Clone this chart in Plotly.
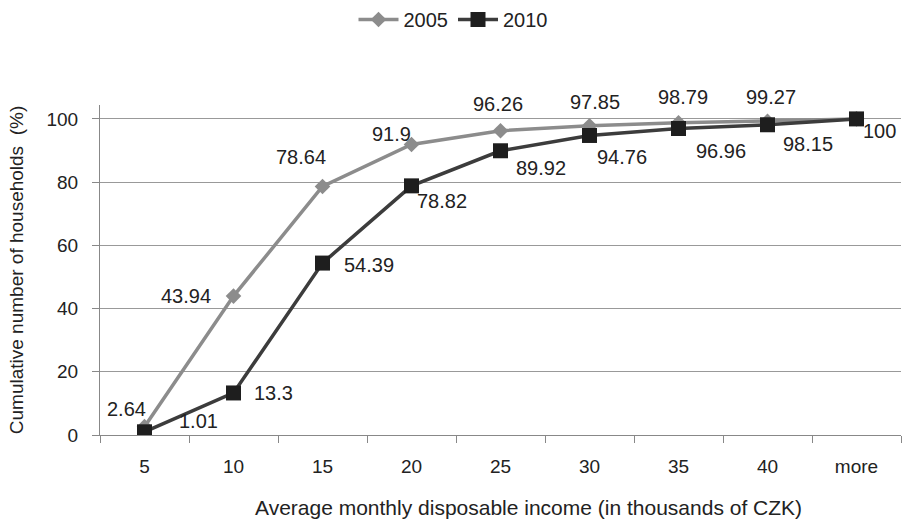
import plotly.graph_objects as go

categories = ["5", "10", "15", "20", "25", "30", "35", "40", "more"]
values_2005 = [2.64, 43.94, 78.64, 91.9, 96.26, 97.85, 98.79, 99.27, 100]
values_2010 = [1.01, 13.3, 54.39, 78.82, 89.92, 94.76, 96.96, 98.15, 100]
labels_2005 = ["2.64", "43.94", "78.64", "91.9", "96.26", "97.85", "98.79", "99.27"]
labels_2010 = ["1.01", "13.3", "54.39", "78.82", "89.92", "94.76", "96.96", "98.15", "100"]
y_ticks = [0, 20, 40, 60, 80, 100]
x_title = "Average monthly disposable income (in thousands of CZK)"
y_title = "Cumulative number of households  (%)"

# label offsets in pixels (style only)
off_2005 = [(-18, 18), (-48, 0), (-22, 29), (-20, 11), (-3, 27), (5, 24), (4, 26), (3, 24)]
off_2010 = [(54, 11), (40, 0), (46, -2), (30, -15), (40, -17), (32, -22), (42, -22), (40, -19), (23, -12)]

font = "Liberation Sans, Arial, sans-serif"
txt_color = "#222222"
fig = go.Figure()
fig.add_trace(go.Scatter(
    x=categories, y=values_2005, name="2005", mode="lines+markers",
    line=dict(color="#8c8c8c", width=3.5),
    marker=dict(symbol="diamond", size=12, color="#8c8c8c"),
))
fig.add_trace(go.Scatter(
    x=categories, y=values_2010, name="2010", mode="lines+markers",
    line=dict(color="#3c3c3c", width=3.5),
    marker=dict(symbol="square", size=15, color="#1e1e1e"),
))

annotations = []
for i, (val, lab, (dx, dy)) in enumerate(zip(values_2005, labels_2005, off_2005)):
    annotations.append(dict(x=i, y=val, xref="x", yref="y", text=lab, showarrow=False,
                            xshift=dx, yshift=dy,
                            font=dict(family=font, size=20, color=txt_color)))
for i, (val, lab, (dx, dy)) in enumerate(zip(values_2010, labels_2010, off_2010)):
    annotations.append(dict(x=i, y=val, xref="x", yref="y", text=lab, showarrow=False,
                            xshift=dx, yshift=dy,
                            font=dict(family=font, size=20, color=txt_color)))
annotations.append(dict(x=0.535, y=-0.221, xref="paper", yref="paper", text=x_title,
                        showarrow=False, xanchor="center", yanchor="middle",
                        font=dict(family=font, size=21, color=txt_color)))

fig.update_layout(
    width=906, height=523,
    margin=dict(l=100, r=5, t=105, b=88),
    paper_bgcolor="white", plot_bgcolor="white",
    font=dict(family=font, size=19, color=txt_color),
    showlegend=True,
    annotations=annotations,
    legend=dict(orientation="h", x=0.5, xanchor="center", xref="container",
                y=1.0, yanchor="top", yref="container", font=dict(size=20), itemwidth=40),
    xaxis=dict(
        type="category", range=[-0.5, 8.5], automargin=False,
        showgrid=False, showline=True, linecolor="#888", linewidth=1,
        ticks="outside", tickson="boundaries", ticklen=7, tickcolor="#888",
        tickfont=dict(size=19), ticklabelstandoff=14,
    ),
    yaxis=dict(
        range=[0, 104.4], tickvals=y_ticks, automargin=False,
        title=dict(text=y_title, font=dict(size=19), standoff=17),
        showgrid=True, gridcolor="#999", gridwidth=1,
        showline=True, linecolor="#888", linewidth=1,
        ticks="outside", ticklen=7, tickcolor="#888",
        tickfont=dict(size=19), zeroline=False, ticklabelstandoff=10,
    ),
)

fig.write_html("out.html", post_script="document.body.style.margin='0';",
               config={"displayModeBar": False})
